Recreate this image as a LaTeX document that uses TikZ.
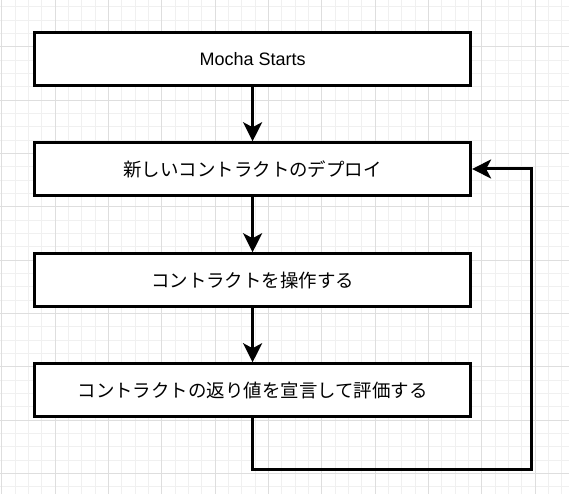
\documentclass[tikz,border=0pt]{standalone}
\usepackage{fontspec}
\setmainfont{Liberation Sans}
\newfontfamily\jpfont[Scale=1.025]{Noto Sans CJK JP}
\usepackage{xcolor}
\usepackage{tikz}
\usetikzlibrary{positioning,arrows.meta}
\tikzstyle{process} = [rectangle, draw, line width=3pt, fill=white, minimum width=436pt, minimum height=52.5pt, inner sep=0pt, font=\fontsize{18}{22}\selectfont]
\tikzstyle{arrow} = [-{Stealth[length=19pt, width=19pt, inset=5pt]}, line width=3pt]
\tikzstyle{minorgrid} = [line width=0.8pt, black!6]
\tikzstyle{majorgrid} = [line width=0.8pt, black!13]

\begin{document}
\begin{tikzpicture}[x=1pt, y=-1pt]
    \useasboundingbox (0,0) rectangle (569,494);
    % Background grid
    \foreach \i in {0,...,42} \draw[minorgrid] (1.7+13.333*\i,0) -- ++(0,494);
    \foreach \j in {0,...,36} \draw[minorgrid] (0,6.7+13.333*\j) -- ++(569,0);
    \foreach \i in {0,...,10} \draw[majorgrid] (1.7+53.333*\i,0) -- ++(0,494);
    \foreach \j in {0,...,8} \draw[majorgrid] (0,46.7+53.333*\j) -- ++(569,0);

    % Steps
    \node[process] (start) at (252.6,59) {Mocha Starts};
    \node[process] (deploy) at (252.6,169) {\jpfont 新しいコントラクトのデプロイ};
    \node[process] (interact) at (252.6,280) {\jpfont コントラクトを操作する};
    \node[process] (evaluate) at (252.6,390) {\jpfont コントラクトの返り値を宣言して評価する};

    % Flow
    \draw[arrow] (start) -- (deploy);
    \draw[arrow] (deploy) -- (interact);
    \draw[arrow] (interact) -- (evaluate);

    % Loop back
    \coordinate (loopA) at (252.6,469.5);
    \coordinate (loopB) at (531.7,469.5);
    \draw[arrow] (evaluate.south) -- (loopA) -- (loopB) |- (deploy.east);
\end{tikzpicture}
\end{document}
